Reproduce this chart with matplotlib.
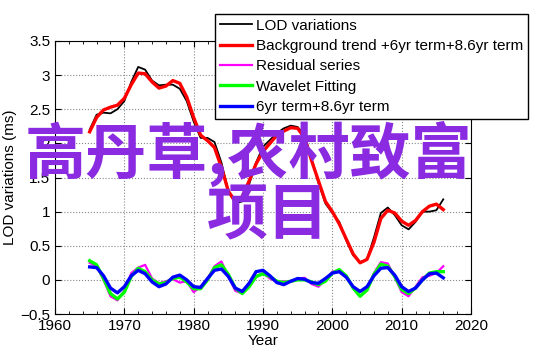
import matplotlib
matplotlib.use("Agg")
import matplotlib.pyplot as plt
from matplotlib.ticker import MultipleLocator

# years 1965..2016, one value per year
years = list(range(1965, 2017))

lod = [2.20, 2.42, 2.45, 2.44, 2.50, 2.62, 2.90, 3.12, 3.08, 2.92,
       2.85, 2.86, 2.86, 2.80, 2.62, 2.32, 2.08, 2.08, 2.02, 1.72,
       1.30, 1.12, 1.15, 1.40, 1.72, 1.95, 2.05, 2.15, 2.22, 2.26,
       2.24, 2.12, 1.78, 1.42, 1.12, 0.98, 0.85, 0.58, 0.36, 0.26,
       0.30, 0.62, 0.98, 1.06, 0.95, 0.80, 0.74, 0.85, 1.00, 1.00,
       1.02, 1.18]

trend = [2.17, 2.38, 2.49, 2.53, 2.56, 2.66, 2.86, 3.03, 3.02, 2.90,
         2.81, 2.84, 2.92, 2.88, 2.68, 2.38, 2.12, 2.04, 1.94, 1.65,
         1.30, 1.15, 1.22, 1.45, 1.70, 1.88, 2.00, 2.12, 2.18, 2.23,
         2.22, 2.08, 1.75, 1.45, 1.15, 1.00, 0.82, 0.60, 0.38, 0.25,
         0.30, 0.55, 0.90, 1.02, 0.98, 0.86, 0.80, 0.87, 1.00, 1.08,
         1.11, 1.03]

residual = [0.25, 0.20, 0.00, -0.24, -0.30, -0.16, 0.10, 0.18, 0.22, 0.02,
            -0.05, -0.02, 0.01, -0.04, -0.02, -0.18, -0.10, 0.02, 0.20, 0.27,
            0.05, -0.16, -0.20, -0.06, 0.04, 0.10, 0.02, -0.03, -0.02, -0.03,
            0.02, 0.03, -0.06, -0.10, 0.00, 0.12, 0.14, 0.04, -0.10, -0.24,
            -0.14, 0.10, 0.26, 0.24, 0.04, -0.18, -0.24, -0.10, 0.04, 0.06,
            0.10, 0.20]

wavelet = [0.28, 0.22, 0.02, -0.20, -0.28, -0.18, 0.05, 0.17, 0.12, 0.00,
           -0.06, -0.04, 0.02, 0.04, -0.03, -0.13, -0.13, 0.00, 0.18, 0.22,
           0.08, -0.12, -0.20, -0.10, 0.05, 0.09, 0.05, -0.02, -0.04, -0.02,
           0.00, 0.00, -0.03, -0.07, -0.02, 0.10, 0.15, 0.06, -0.12, -0.24,
           -0.15, 0.08, 0.23, 0.20, 0.05, -0.14, -0.20, -0.12, 0.00, 0.10,
           0.12, 0.12]

terms = [0.19, 0.18, 0.06, -0.12, -0.19, -0.10, 0.06, 0.14, 0.09, -0.03,
         -0.10, -0.06, 0.04, 0.07, 0.00, -0.10, -0.11, 0.02, 0.14, 0.16,
         0.05, -0.12, -0.17, -0.05, 0.12, 0.14, 0.06, -0.04, -0.07, -0.02,
         0.02, 0.01, -0.04, -0.05, 0.02, 0.10, 0.12, 0.04, -0.10, -0.17,
         -0.10, 0.06, 0.17, 0.18, 0.07, -0.10, -0.17, -0.12, 0.00, 0.09,
         0.10, 0.03]

labels = ['LOD variations', 'Background trend +6yr term+8.6yr term',
          'Residual series', 'Wavelet Fitting', '6yr term+8.6yr term']
yticks = [-0.5, 0, 0.5, 1, 1.5, 2, 2.5, 3, 3.5]
yticklabels = ['\u22120.5', '0', '0.5', '1', '1.5', '2', '2.5', '3', '3.5']

plt.rcParams['font.family'] = ['Liberation Sans', 'DejaVu Sans']

fig = plt.figure(figsize=(5.42, 3.56), dpi=100)
ax = fig.add_axes([55/542, 1-314/356, (471-55)/542, (314-41)/356])

ax.plot(years, lod, color='k', lw=1.3, label=labels[0])
ax.plot(years, trend, color='#ff0000', lw=2.4, label=labels[1])
ax.plot(years, residual, color='#ff00ff', lw=1.6, label=labels[2])
ax.plot(years, wavelet, color='#00ff00', lw=2.4, label=labels[3])
ax.plot(years, terms, color='#0000ff', lw=2.4, label=labels[4])

ax.set_xlim(1960, 2020)
ax.set_ylim(-0.5, 3.5)
ax.xaxis.set_major_locator(MultipleLocator(10))
ax.xaxis.set_minor_locator(MultipleLocator(2))
ax.set_yticks(yticks)
ax.set_yticklabels(yticklabels)
ax.tick_params(which='both', direction='in', top=True, right=True, labelsize=11)
ax.tick_params(which='major', length=4)
ax.tick_params(which='minor', length=2)
ax.grid(True, which='major', linestyle=':', color='#888888', lw=0.8)
ax.set_xlabel('Year', fontsize=11, labelpad=1)
ax.set_ylabel('LOD variations (ms)', fontsize=11, labelpad=2)

fig.legend(loc='upper right', bbox_to_anchor=(528/542, 1-14/356),
           fontsize=11, frameon=True, fancybox=False, edgecolor='k',
           framealpha=1, borderaxespad=0, labelspacing=0.42,
           handlelength=2.1, handletextpad=0.3, borderpad=0.3)

# big overlay text
fig.text(249/542, 1-154/356, '高丹草,农村致富', color='#8a2be2', fontsize=44,
         family=['Noto Sans CJK SC', 'DejaVu Sans'], weight='bold',
         ha='center', va='center')
fig.text(268/542, 1-217/356, '项目', color='#8a2be2', fontsize=44,
         family=['Noto Sans CJK SC', 'DejaVu Sans'], weight='bold',
         ha='center', va='center')

fig.savefig('out.png', dpi=100)
